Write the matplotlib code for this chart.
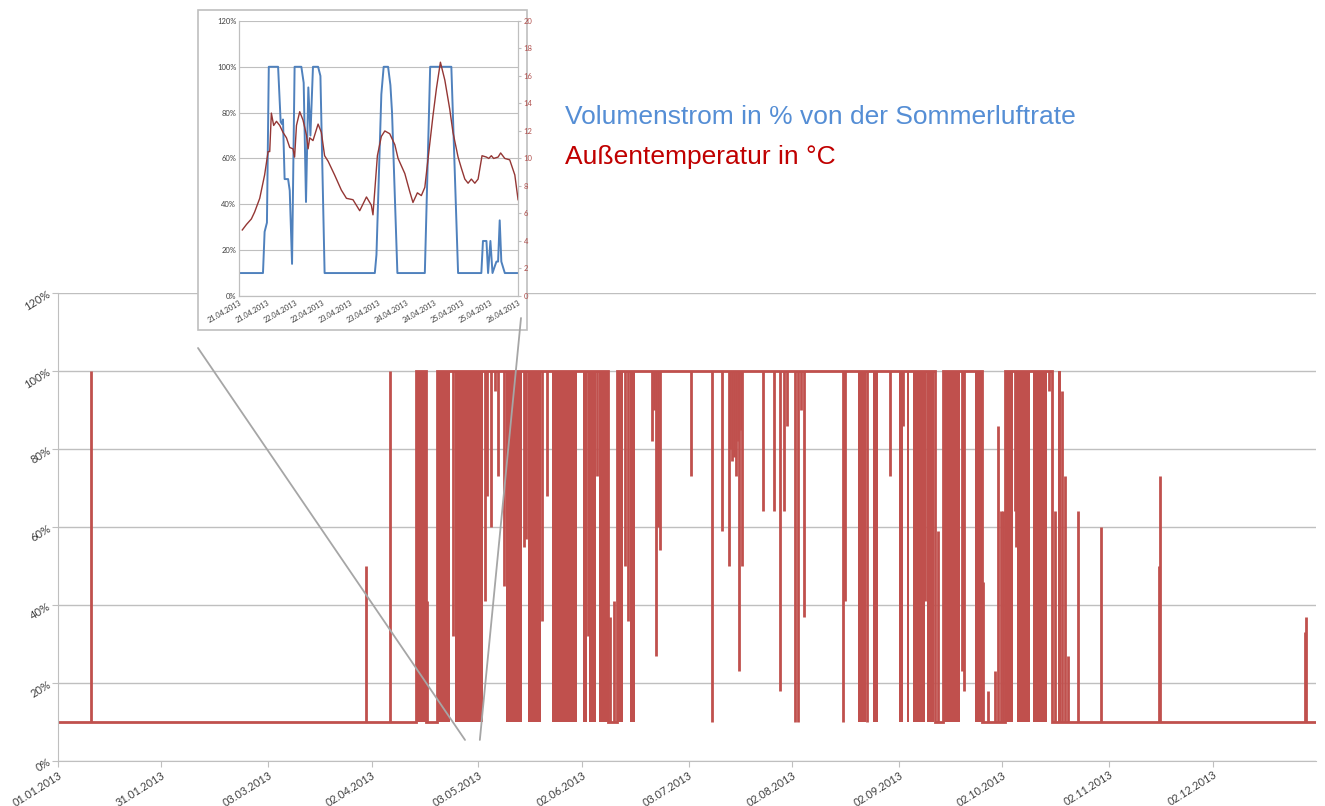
"""
Volumenstrom der Lüftungsanlage über das Jahr 2013
mit Detailausschnitt 21.04.-26.04.2013 (Volumenstrom und Außentemperatur).
"""

import datetime

import matplotlib
matplotlib.use('Agg')
import matplotlib.pyplot as plt
from matplotlib.patches import Rectangle, ConnectionPatch

RED = '#C0504D'
BLUE = '#4F81BD'
TEMP_RED = '#943634'
GRID = '#BFBFBF'
AXIS = '#A6A6A6'
LABEL = '#404040'

# ---------------------------------------------------------------- year data
# day of year (0 = 01.01.2013); line sits at 10 % except in the on-spans (100 %)
x_tick_labels = ['01.01.2013', '31.01.2013', '03.03.2013', '02.04.2013',
                 '03.05.2013', '02.06.2013', '03.07.2013', '02.08.2013',
                 '02.09.2013', '02.10.2013', '02.11.2013', '02.12.2013']
y_ticks = [0, 20, 40, 60, 80, 100, 120]

on_spans = [(103.9, 106.8), (110.0, 159.6), (162.2, 254.4),
            (256.8, 268.1), (274.7, 288.4)]

# periods of fast switching, seen as solid red bands between 10 and 100 %
dense_spans = [(103.9, 106.8), (110.0, 113.7), (115.2, 123.3), (130.0, 134.6),
               (136.4, 140.1), (143.3, 150.6), (152.3, 153.5), (154.1, 156.1),
               (157.0, 159.6), (162.2, 163.9), (165.9, 167.4), (232.1, 234.4),
               (236.4, 237.9), (244.0, 245.1), (246.3, 246.9), (248.0, 251.5),
               (252.1, 254.1), (256.8, 261.7), (266.0, 268.1), (274.7, 277.1),
               (278.2, 282.0), (282.9, 286.9), (290.1, 290.9)]

# short drops from 100 % (day, lowest value)
dip_days = [114.6, 123.9, 124.5, 125.6, 126.8, 127.7, 129.4, 135.2, 135.8,
            140.4, 141.9, 153.8, 156.4, 164.5, 165.4,
            172.3, 172.9, 173.5, 174.1, 174.6, 183.6, 189.7, 192.6,
            194.7, 195.0, 195.5, 196.1, 196.7, 197.3, 197.6, 198.1, 198.4,
            204.5, 207.7, 209.5, 210.6, 211.5, 213.8, 214.7, 215.6, 216.4,
            227.7, 228.3, 234.7, 241.4, 245.1, 251.5,
            262.3, 262.8, 277.6, 277.9, 287.5]
dip_values = [32, 41, 68, 60, 95, 73, 45, 55, 57,
              36, 68, 32, 73, 50, 36,
              82, 90, 27, 60, 54, 73, 10, 59,
              50, 80, 77, 78, 73, 82, 23, 85, 50,
              64, 64, 18, 64, 86, 10, 10, 90, 37,
              10, 41, 10, 73, 86, 41,
              23, 18, 64, 55, 95]

# short rises from 10 % (day, highest value)
peak_days = [9.6, 89.4, 96.3, 107.05, 160.1, 161.3, 255.3,
             268.4, 269.8, 271.8, 272.7, 273.6, 274.2,
             289.2, 291.3, 292.1, 293.0, 295.9, 302.6,
             319.4, 319.7, 361.8, 362.1]
peak_values = [100, 50, 100, 41, 37, 41, 59,
               46, 18, 23, 86, 64, 64,
               64, 95, 73, 27, 64, 60,
               50, 73, 33, 37]

# --------------------------------------------------------------- inset data
inset_start = datetime.datetime(2013, 4, 21)
flow_hours = [0, 10.3, 11.0, 12.0, 12.8, 16.8, 17.9, 18.5, 18.9, 19.6, 21.1,
              21.8, 22.8, 23.9, 26.8, 27.8, 28.8, 29.8, 30.7, 31.8, 34.0,
              35.0, 36.8, 58.4, 59.1, 61.2, 62.2, 64.1, 65.1, 65.8, 68.1,
              79.9, 82.2, 91.3, 94.2, 104.2, 104.9, 106.4, 107.1, 108.1,
              109.0, 110.0, 110.7, 111.4, 112.1, 112.8, 114.3, 120.0]
flow_pct = [10, 10, 28, 32, 100, 100, 76, 75, 77, 51, 51,
            46, 14, 100, 100, 93, 41, 91, 70, 100, 100,
            96, 10, 10, 18, 88, 100, 100, 92, 80, 10,
            10, 100, 100, 10, 10, 24, 24, 10, 24,
            10, 13, 15, 15, 33, 15, 10, 10]

temp_hours = [1.4, 3.2, 5.3, 6.7, 8.9, 11.0, 12.5, 13.2, 13.9, 14.9, 16.1,
              17.5, 18.9, 20.4, 21.8, 23.2, 23.9, 24.7, 26.1, 27.5, 29.0,
              29.7, 30.4, 31.8, 34.0, 35.4, 36.8, 38.3, 41.1, 44.0, 46.2,
              49.0, 51.9, 54.8, 56.9, 57.6, 59.5, 61.2, 62.7, 64.8, 67.0,
              68.4, 71.3, 73.4, 74.8, 76.7, 78.4, 79.9, 81.3, 83.4, 84.9,
              86.6, 88.5, 90.6, 92.0, 94.2, 95.6, 97.1, 98.5, 99.9, 101.4,
              102.8, 104.5, 106.4, 107.4, 108.5, 109.5, 111.4, 112.5, 114.3,
              116.4, 118.6, 120.0]
temp_c = [4.8, 5.2, 5.6, 6.1, 7.1, 8.8, 10.5, 10.5, 13.3, 12.4, 12.7,
          12.4, 11.9, 11.5, 10.8, 10.7, 10.1, 12.4, 13.4, 12.8, 11.7,
          10.7, 11.5, 11.3, 12.5, 11.9, 10.2, 9.8, 8.8, 7.7, 7.1,
          7.0, 6.2, 7.2, 6.6, 5.9, 10.2, 11.6, 12.0, 11.8, 11.0,
          10.0, 8.9, 7.6, 6.8, 7.5, 7.3, 7.9, 10.0, 13.1, 15.1,
          17.0, 15.7, 13.6, 11.9, 10.1, 9.3, 8.5, 8.2, 8.5, 8.2,
          8.5, 10.2, 10.1, 10.0, 10.2, 10.0, 10.1, 10.4, 10.0,
          9.9, 8.8, 7.0]
inset_tick_hours = list(range(0, 121, 12))
temp_ticks = list(range(0, 21, 2))


def base_line(spans, low=10, high=100, end=365.0):
    """Build the step outline of the 10 % / 100 % states from the on-spans."""
    xs, ys = [0.0], [low]
    for start, stop in spans:
        xs += [start, start, stop, stop]
        ys += [low, high, high, low]
    xs.append(end)
    ys.append(low)
    return xs, ys


def day_of_year(label):
    """Day offset of a dd.mm.yyyy label from 01.01.2013."""
    d = datetime.datetime.strptime(label, '%d.%m.%Y')
    return (d - datetime.datetime(2013, 1, 1)).days


plt.rcParams['font.family'] = ['Lato', 'DejaVu Sans']
fig = plt.figure(figsize=(13.25, 8.06), dpi=100)

# ---------------------------------------------------------------- main axes
ax = fig.add_axes([0.04377, 0.05583, 0.9494, 0.5806])
ax.set_axisbelow(True)
xs, ys = base_line(on_spans)
ax.plot(xs, ys, color=RED, lw=2.0, solid_joinstyle='miter')
for start, stop in dense_spans:
    ax.fill_between([start, stop], 10, 100, color=RED, lw=0)
ax.vlines(dip_days, dip_values, 100, color=RED, lw=2.0)
ax.vlines(peak_days, 10, peak_values, color=RED, lw=2.0)

ax.set_xlim(0, 365)
ax.set_ylim(0, 120)
ax.set_xticks([day_of_year(s) for s in x_tick_labels])
ax.set_xticklabels(x_tick_labels, rotation=32, ha='right',
                   rotation_mode='anchor', fontsize=7.8, color=LABEL)
ax.set_yticks(y_ticks)
ax.set_yticklabels([f'{v}%' for v in y_ticks], rotation=32, ha='right',
                   va='center', rotation_mode='anchor', fontsize=8,
                   color=LABEL)
ax.tick_params(axis='both', length=4, color=GRID, pad=2)
ax.grid(axis='y', color=GRID, lw=1.0)
for side in ('top', 'right'):
    ax.spines[side].set_visible(False)
for side in ('left', 'bottom'):
    ax.spines[side].set_color(GRID)

# ------------------------------------------------------------------- inset
frame = Rectangle((198 / 1325, 1 - 330 / 806), 329 / 1325, 320 / 806,
                  transform=fig.transFigure, facecolor='white',
                  edgecolor=GRID, lw=1.2, zorder=1)
fig.patches.append(frame)

ax_in = fig.add_axes([0.1804, 0.6328, 0.2106, 0.3412])
ax_in.set_zorder(2)
ax_in.set_axisbelow(True)
ax_in.plot(flow_hours, flow_pct, color=BLUE, lw=1.4)
ax_in.set_xlim(0, 120)
ax_in.set_ylim(0, 120)
ax_in.set_yticks(y_ticks)
ax_in.set_yticklabels([f'{v}%' for v in y_ticks], fontsize=5.5, color=LABEL)
ax_in.set_xticks(inset_tick_hours)
ax_in.set_xticklabels(
    [(inset_start + datetime.timedelta(hours=h)).strftime('%d.%m.%Y')
     for h in inset_tick_hours],
    rotation=30, ha='right', rotation_mode='anchor', fontsize=5.3,
    color=LABEL)
ax_in.tick_params(axis='both', length=0, pad=2)
ax_in.grid(axis='y', color=GRID, lw=0.8)
ax_in.spines['top'].set_visible(False)
for side in ('left', 'bottom', 'right'):
    ax_in.spines[side].set_color(GRID)

ax_t = ax_in.twinx()
ax_t.set_zorder(3)
ax_t.plot(temp_hours, temp_c, color=TEMP_RED, lw=1.0)
ax_t.set_ylim(0, 20)
ax_t.set_yticks(temp_ticks)
ax_t.tick_params(axis='y', length=2, color=GRID, pad=2, labelsize=5.5,
                 labelcolor='#B0504D')
ax_t.spines['top'].set_visible(False)
for side in ('left', 'bottom', 'right'):
    ax_t.spines[side].set_color(GRID)

# connector lines from the inset down to the time window in the year chart
for start, end in [((198 / 1325, 1 - 348 / 806), (118.1, 5.4)),
                   ((521 / 1325, 1 - 318 / 806), (122.4, 5.4))]:
    con = ConnectionPatch(xyA=start, coordsA='figure fraction',
                          xyB=end, coordsB=ax.transData,
                          color=AXIS, lw=1.3, zorder=4)
    fig.add_artist(con)

# ------------------------------------------------------------------ legend
fig.text(565 / 1325, 1 - 117 / 806, 'Volumenstrom in % von der Sommerluftrate',
         color='#558ED5', fontsize=19, family=['Liberation Sans', 'DejaVu Sans'],
         va='center', ha='left')
fig.text(565 / 1325, 1 - 157 / 806, 'Außentemperatur in °C',
         color='#C00000', fontsize=19, family=['Liberation Sans', 'DejaVu Sans'],
         va='center', ha='left')

fig.savefig('out.png', dpi=100, facecolor='white')
